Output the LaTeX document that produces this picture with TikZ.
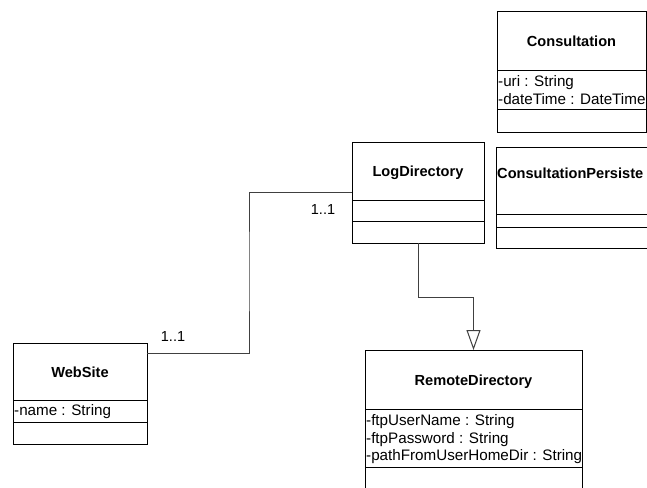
\documentclass[tikz,border=0pt]{standalone}
\usepackage{fontspec}
\setmainfont{Liberation Sans}
\usetikzlibrary{arrows.meta}

\tikzset{
  classbox/.style={draw=black, line width=1pt, fill=white, anchor=north west,
                   inner sep=0pt, outer sep=0pt},
  title/.style={font=\fontsize{14.6}{17}\selectfont\bfseries, anchor=base, inner sep=0pt},
  attr/.style={font=\fontsize{15.2}{17}\selectfont, anchor=base west, inner sep=0pt},
  mult/.style={font=\fontsize{14.5}{17}\selectfont, anchor=base, inner sep=0pt},
  sep/.style={draw=black, line width=1pt},
  assoc/.style={draw=black!75, line width=1pt},
  gen/.style={draw=black!75, line width=1pt,
              -{Triangle[open, length=20pt, width=14pt, fill=white]}},
}

\begin{document}
\begin{tikzpicture}[x=1pt, y=-1pt]
  \useasboundingbox (0,0) rectangle (647,487);
  \clip (0,0) rectangle (647,487);
  \fill[white] (0,0) rectangle (647,487);

  % Consultation
  \node[classbox, minimum width=149pt, minimum height=120pt] (cons) at (497,12) {};
  \draw[sep] (497,70) -- (646,70);
  \draw[sep] (497,109) -- (646,109);
  \node[title] (consT) at (571.5,46.5) {Consultation};
  \node[attr] (consA1) at (498,86) {-uri : String};
  \node[attr] (consA2) at (498,104) {-dateTime : DateTime};

  % ConsultationPersistence (runs past the right edge)
  \node[classbox, minimum width=180pt, minimum height=101pt] (pers) at (496,147) {};
  \draw[sep] (496,214) -- (680,214);
  \draw[sep] (496,227) -- (680,227);
  \node[title, anchor=base west] (persT) at (497,178) {ConsultationPersiste};

  % LogDirectory
  \node[classbox, minimum width=132pt, minimum height=101pt] (log) at (352,142) {};
  \draw[sep] (352,200) -- (484,200);
  \draw[sep] (352,221) -- (484,221);
  \node[title] (logT) at (418,176) {LogDirectory};

  % WebSite
  \node[classbox, minimum width=134pt, minimum height=101pt] (web) at (13,343) {};
  \draw[sep] (13,400) -- (147,400);
  \draw[sep] (13,422) -- (147,422);
  \node[title] (webT) at (80,377) {WebSite};
  \node[attr] (webA1) at (14,415) {-name : String};

  % RemoteDirectory (runs past the bottom edge)
  \node[classbox, minimum width=217pt, minimum height=150pt] (remote) at (365,350) {};
  \draw[sep] (365,409) -- (582,409);
  \draw[sep] (365,467) -- (582,467);
  \node[title] (remT) at (473.5,385) {RemoteDirectory};
  \node[attr] (remA1) at (366,425) {-ftpUserName : String};
  \node[attr] (remA2) at (366,443) {-ftpPassword : String};
  \node[attr] (remA3) at (366,460) {-pathFromUserHomeDir : String};

  % association WebSite -- LogDirectory
  \draw[assoc] (web.east |- 0,353) -| (249,270) |- (log.west |- 0,192);
  \node[mult] (m1) at (173,341) {1..1};
  \node[mult] (m2) at (323,214) {1..1};

  % generalization LogDirectory -> RemoteDirectory
  \draw[gen] (log.south) -- (418,297) -| (remote.north);
\end{tikzpicture}
\end{document}
